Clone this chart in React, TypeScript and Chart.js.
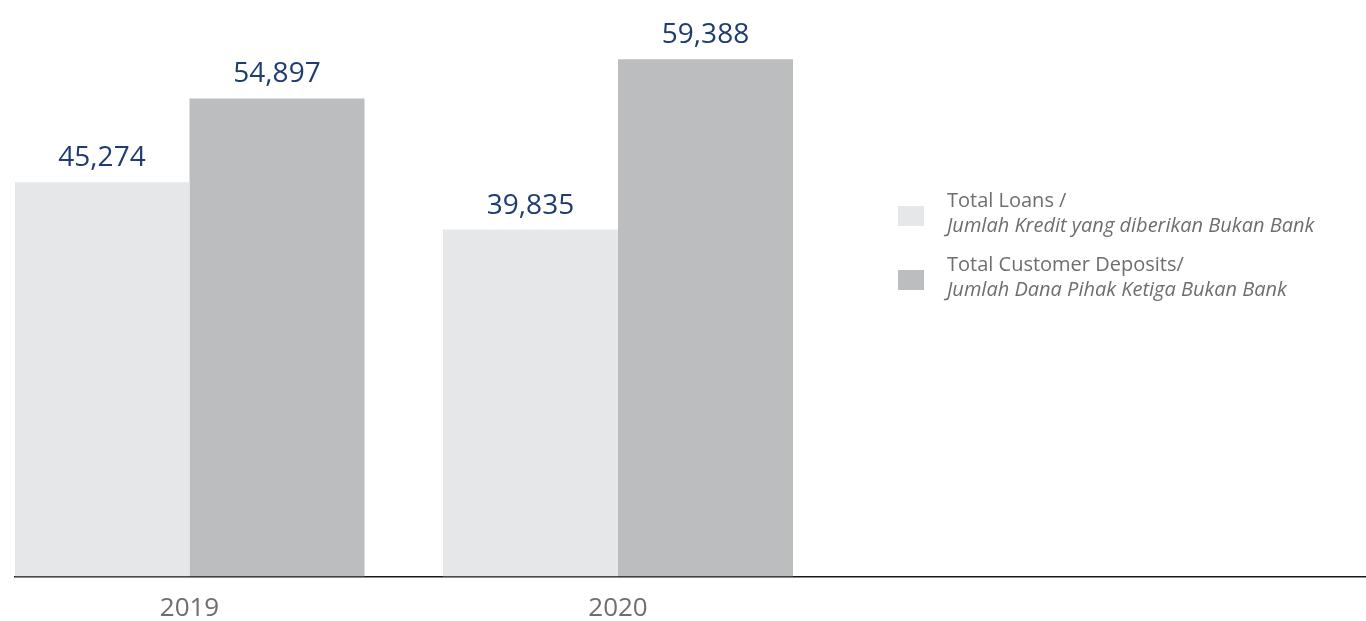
import React, { useEffect, useRef } from "react";
import { Chart, registerables } from "chart.js";

Chart.register(...registerables);

const years = [2019, 2020];
const loans = [45274, 39835];
const deposits = [54897, 59388];
const legendMain = ["Total Loans /", "Total Customer Deposits/"];
const legendSub = ["Jumlah Kredit yang diberikan Bukan Bank", "Jumlah Dana Pihak Ketiga Bukan Bank"];
const seriesColors = ["#e6e7e8", "#bcbdbf"];

const FONT = "'Open Sans', 'Noto Sans', sans-serif";

const valueLabels = {
  id: "valueLabels",
  afterDatasetsDraw(chart: any) {
    const ctx = chart.ctx;
    ctx.save();
    ctx.font = `28px ${FONT}`;
    ctx.fillStyle = "#1f3d6e";
    ctx.textAlign = "center";
    ctx.textBaseline = "alphabetic";
    chart.data.datasets.forEach((ds: any, di: number) => {
      const meta = chart.getDatasetMeta(di);
      meta.data.forEach((bar: any, i: number) => {
        const v = ds.data[i].y;
        ctx.fillText(v.toLocaleString("en-US"), bar.x, bar.y - 16);
      });
    });
    ctx.restore();
  },
};

const sideLegend = {
  id: "sideLegend",
  afterDraw(chart: any) {
    const ctx = chart.ctx;
    ctx.save();
    legendMain.forEach((t, i) => {
      const base = 206.7 + i * 64.3;
      ctx.fillStyle = seriesColors[i];
      ctx.fillRect(898, 206 + i * 64, 26, 20);
      ctx.fillStyle = "#6d6e71";
      ctx.textAlign = "left";
      ctx.textBaseline = "alphabetic";
      ctx.font = `20px ${FONT}`;
      ctx.fillText(t, 947, base);
      ctx.font = `italic 20px ${FONT}`;
      ctx.fillText(legendSub[i], 947, base + 25);
    });
    ctx.restore();
  },
};

export default function App() {
  const ref = useRef<HTMLCanvasElement>(null);
  useEffect(() => {
    if (!ref.current) return;
    const chart = new Chart(ref.current, {
      type: "bar",
      data: {
        datasets: [
          {
            label: legendMain[0],
            data: years.map((y, i) => ({ x: y, y: loans[i] })),
            backgroundColor: seriesColors[0],
            categoryPercentage: 350 / 428.5,
            barPercentage: 1,
          },
          {
            label: legendMain[1],
            data: years.map((y, i) => ({ x: y, y: deposits[i] })),
            backgroundColor: seriesColors[1],
            categoryPercentage: 350 / 428.5,
            barPercentage: 1,
          },
        ],
      },
      options: {
        animation: false,
        responsive: false,
        maintainAspectRatio: false,
        layout: { padding: { left: 15, right: 0, top: 0, bottom: 0 } },
        plugins: { legend: { display: false }, tooltip: { enabled: false } },
        scales: {
          x: {
            type: "linear",
            offset: false,
            min: 2019 - 174.5 / 428.5,
            max: 2019 - 174.5 / 428.5 + 1351 / 428.5,
            afterBuildTicks: (scale: any) => {
              scale.ticks = years.map((v) => ({ value: v }));
            },
            afterFit: (scale: any) => {
              scale.height = 44.5;
            },
            grid: { display: false, drawTicks: false },
            border: { display: true, color: "#1a1718", width: 1.5 },
            ticks: {
              autoSkip: false,
              maxRotation: 0,
              padding: 16,
              color: "#6d6e71",
              font: { family: FONT, size: 26 },
              callback: (v: any) => String(v),
            },
          },
          y: {
            display: false,
            min: 0,
            max: 66200,
          },
        },
      },
      plugins: [valueLabels, sideLegend],
    } as any);
    return () => chart.destroy();
  }, []);
  return (
    <div style={{ position: "fixed", left: 0, top: 0, width: 1366, height: 621, background: "#fff" }}>
      <canvas ref={ref} width={1366} height={621} style={{ display: "block", width: 1366, height: 621 }} />
    </div>
  );
}
